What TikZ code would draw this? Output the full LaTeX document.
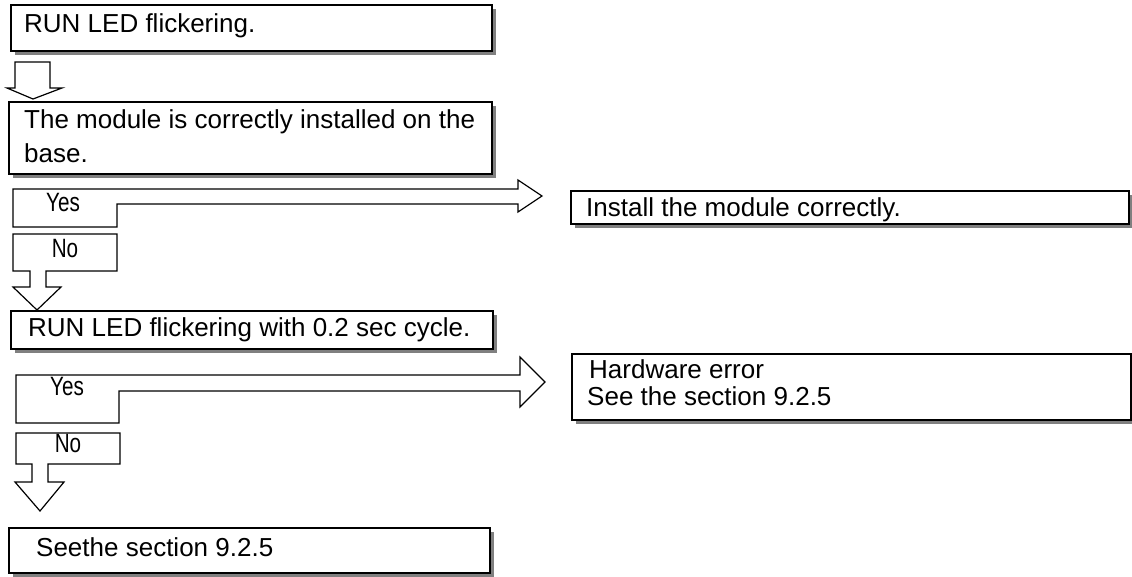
\documentclass[tikz,border=0pt]{standalone}
\usepackage{fontspec}
\setmainfont{Liberation Sans}
\newfontfamily\ynfont[FakeStretch=0.78]{Liberation Sans}
\usetikzlibrary{shadows}

\tikzset{
  box/.style={draw=black, line width=1.5pt, fill=white, inner sep=0pt, anchor=north west,
    drop shadow={shadow xshift=4pt, shadow yshift=-4pt, fill=black!50, opacity=1}},
  txt/.style={anchor=base west, inner sep=0pt, font=\fontsize{26}{30}\selectfont},
  yn/.style={anchor=base, inner sep=0pt, font=\fontsize{26.5}{26.5}\ynfont},
  blockarrow/.style={draw=black, line width=1.2pt, fill=white, line join=miter}
}

\begin{document}
\begin{tikzpicture}[x=1pt, y=-1pt]
\useasboundingbox (0,0) rectangle (1132,576);
% Draw the boxes of the left column
\node[box, minimum width=481pt, minimum height=46pt] (start) at (10,4) {};
\node[box, minimum width=483pt, minimum height=72pt] (base) at (8,101) {};
\node[box, minimum width=482pt, minimum height=38pt] (cycle) at (10,310) {};
\node[box, minimum width=481pt, minimum height=45pt] (see) at (8,527) {};
% Draw the boxes of the right column
\node[box, minimum width=558pt, minimum height=33pt] (install) at (570,190) {};
\node[box, minimum width=559pt, minimum height=66pt] (hwerr) at (571,353) {};

% Texts of the boxes
\node[txt] (tstart) at (24,32) {RUN LED flickering.};
\node[txt] (tbase) at (24,128) {The module is correctly installed on the};
\node[txt] (tbase2) at (24,162) {base.};
\node[txt] (tcycle) at (28,336) {RUN LED flickering with 0.2 sec cycle.};
\node[txt] (tsee) at (36,556) {Seethe section 9.2.5};
\node[txt] (tinstall) at (586,216) {Install the module correctly.};
\node[txt] (thw) at (589,378) {Hardware error};
\node[txt] (thw2) at (587,405) {See the section 9.2.5};

% Draw the hollow arrow below the first box
\draw[blockarrow] (15,62) -- (50,62) -- (50,88) -- (62,88) -- (33,99) -- (7,88) -- (15,88) -- cycle;

% Draw the first Yes arrow and the No arrow
\draw[blockarrow] (13,189) -- (518,189) -- (518,180) -- (542,196) -- (518,212) -- (518,204)
  -- (117,204) -- (117,227) -- (13,227) -- cycle;
\draw[blockarrow] (13,234) -- (117,234) -- (117,271) -- (46,271) -- (46,287) -- (61,287)
  -- (37,310) -- (13,287) -- (30,287) -- (30,271) -- (13,271) -- cycle;
\node[yn] (yes1) at (63,211) {Yes};
\node[yn] (no1) at (65,257) {No};

% Draw the second Yes arrow and the No arrow
\draw[blockarrow] (16,375) -- (520,375) -- (520,357) -- (545,382) -- (520,407) -- (520,391)
  -- (119,391) -- (119,423) -- (16,423) -- cycle;
\draw[blockarrow] (16,433) -- (120,433) -- (120,464) -- (48,464) -- (48,482) -- (64,482)
  -- (40,511) -- (15,482) -- (32,482) -- (32,464) -- (16,464) -- cycle;
\node[yn] (yes2) at (67,395) {Yes};
\node[yn] (no2) at (68,452) {No};
\end{tikzpicture}
\end{document}
